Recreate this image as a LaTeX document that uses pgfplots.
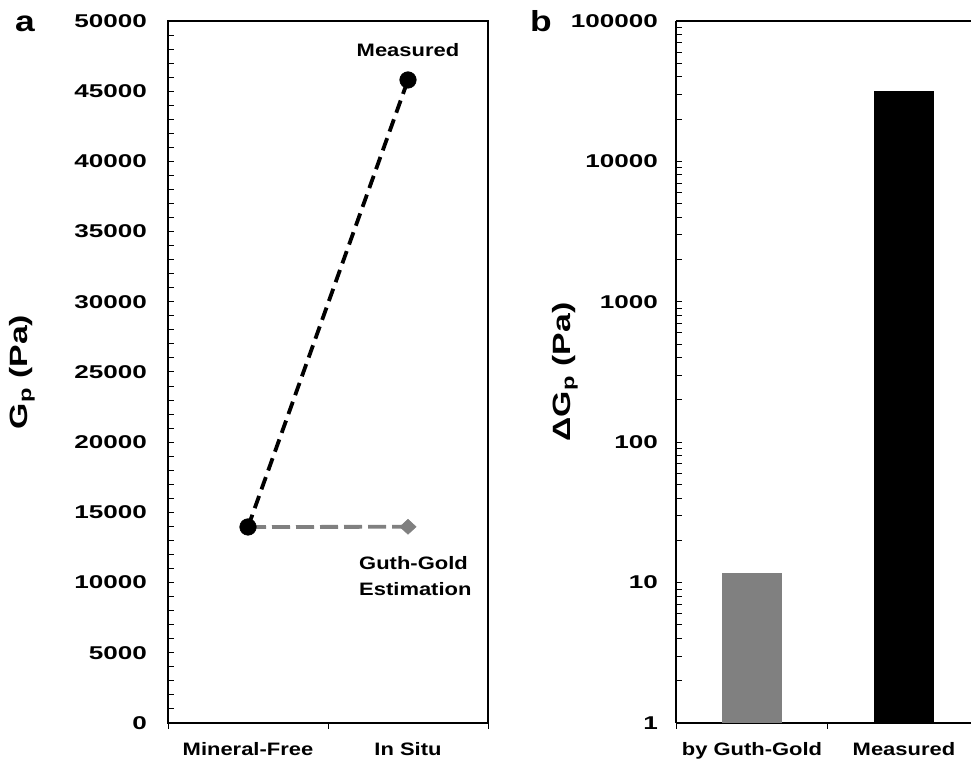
\documentclass[border=0pt]{standalone}
\usepackage{fontspec}
\setmainfont{Liberation Sans}[FakeStretch=1.22]
\newfontfamily\numfont{Liberation Sans}[FakeStretch=1.41]
\newfontfamily\labfont{Liberation Sans}[FakeStretch=1.35]
\usepackage{pgfplots}
\pgfplotsset{compat=1.18}
\definecolor{gg}{RGB}{128,128,128}

\begin{document}
\begin{tikzpicture}[x=1pt,y=1pt]
\useasboundingbox (0,0) rectangle (972,762);
\pgfplotsset{
  panel/.style={
    scale only axis, height=702pt,
    axis line style={line width=1.2pt, black},
    tick style={line width=1pt, black},
    major tick length=6pt, minor tick length=6pt,
    tick align=inside, ytick pos=left, xtick pos=bottom,
    xtick style={yshift=-6pt},
    tick label style={font=\fontsize{18}{20}\selectfont\bfseries},
    yticklabel style={inner sep=0pt, anchor=east,
      font=\fontsize{18.5}{20}\selectfont\numfont\bfseries},
    xticklabel style={inner sep=0pt, anchor=north, yshift=-19pt},
    xmin=-0.5,
    xtick={-0.5,0.5,1.5}, xticklabels={},
    extra x ticks={0,1},
    extra x tick style={major tick length=0pt},
    clip=false,
  },
}
% panel letters
\node[anchor=base, font=\fontsize{29}{32}\selectfont\bfseries] at (25,730) {a};
\node[anchor=base, font=\fontsize{29}{32}\selectfont\bfseries] at (541,730) {b};

% (a) storage modulus before and after mineral addition
\begin{axis}[panel,
  at={(168pt,39pt)}, anchor=south west, width=320pt,
  xmax=1.5,
  ymin=0, ymax=50000,
  ytick={0,5000,...,50000},
  yticklabels={0,5000,10000,15000,20000,25000,30000,35000,40000,45000,50000},
  minor y tick num=4,
  yticklabel style={xshift=-21pt},
  extra x tick labels={Mineral-Free, In Situ},
  every axis y label/.style={at={([xshift=-146pt]axis description cs:0,0.5)},
    rotate=90, anchor=center, font=\fontsize{25}{28}\selectfont\labfont\bfseries},
  ylabel={G\textsubscript{p} (Pa)},
]
\addplot[gg, line width=3.8pt, dash pattern=on 18pt off 6pt,
  mark=diamond*, mark indices={2}, mark size=7.5pt,
  mark options={solid, fill=gg, draw=gg, line width=0.5pt, xscale=1.45}]
  coordinates {(0,13960) (1,13975)};
\addplot[black, line width=3.8pt, dash pattern=on 13pt off 7pt,
  mark=*, mark size=8.3pt,
  mark options={solid, fill=black, line width=0.5pt}]
  coordinates {(0,13960) (1,45800)};
\node[font=\fontsize{18}{20}\selectfont\bfseries, anchor=center]
  at (axis cs:1,47900) {Measured};
\node[font=\fontsize{18}{26}\selectfont\bfseries, anchor=north west,
  align=left, inner sep=0pt]
  at (axis cs:0.694,11895) {Guth-Gold\\Estimation};
\end{axis}

% (b) increase of the storage modulus, log scale
\begin{axis}[panel,
  at={(676pt,39pt)}, anchor=south west, width=295pt,
  axis lines*=left,
  xmax=1.441,
  ymode=log, ymin=1, ymax=100000,
  ytick={1,10,100,1000,10000,100000},
  yticklabels={1,10,100,1000,10000,100000},
  yticklabel style={xshift=-18pt},
  extra x tick labels={by Guth-Gold, Measured},
  every axis y label/.style={at={([xshift=-111pt]axis description cs:0,0.5)},
    rotate=90, anchor=center, font=\fontsize{25}{28}\selectfont\labfont\bfseries},
  ylabel={ΔG\textsubscript{p} (Pa)},
]
\addplot[ybar, bar width=60pt, bar shift=0pt, fill=gg, draw=none]
  coordinates {(0,11.7)};
\addplot[ybar, bar width=60pt, bar shift=0pt, fill=black, draw=none]
  coordinates {(1,31840)};
\draw[line width=1.2pt] (rel axis cs:0,1) -- (rel axis cs:1,1);
\end{axis}
\end{tikzpicture}
\end{document}
